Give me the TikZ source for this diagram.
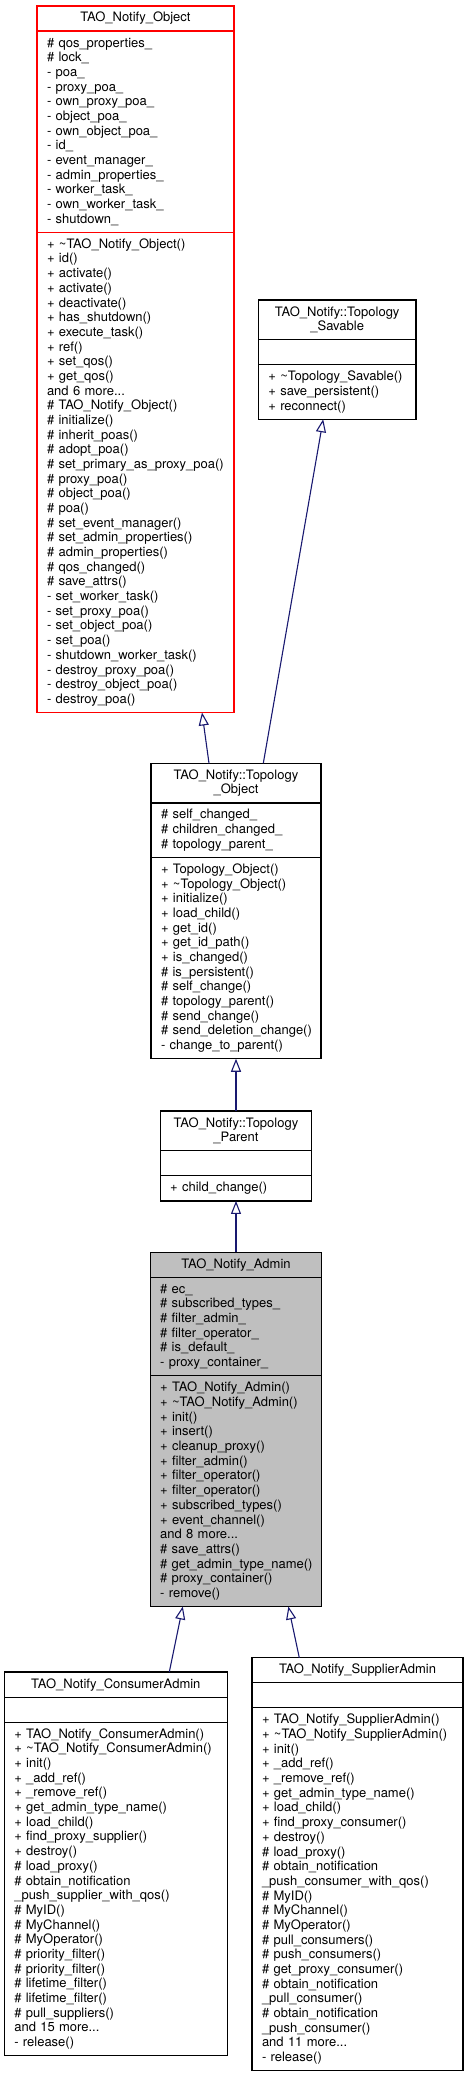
\documentclass[tikz,border=0pt]{standalone}
\usepackage{fontspec}
\setmainfont{TeX Gyre Heros}
\usetikzlibrary{arrows.meta,positioning}
\definecolor{edgeBlue}{HTML}{191970}
\definecolor{boxRed}{HTML}{FF0000}
\definecolor{boxGray}{HTML}{BFBFBF}

\begin{document}
\begin{tikzpicture}[x=1pt,y=-1pt,font=\fontsize{13}{14.68}\selectfont,
  cls/.style={draw=black,line width=1.2pt,fill=white,outer sep=0pt,inner ysep=0pt},
  nlines/.style={minimum height=#1*14.68pt+10.4pt},
  head/.style={cls,inner xsep=0pt,minimum width=#1,align=center},
  body/.style={cls,inner xsep=10pt,text width=#1,align=left},
  inherit/.style={edgeBlue,line width=1.1pt,-{Triangle[open,length=13pt,width=10pt]}}]
\useasboundingbox (0,0) rectangle (468,2077);

% TAO_Notify_Object
\node[head=197pt,nlines=1,draw=boxRed,anchor=north] (objHead) at (135.5,6) {TAO\_Notify\_Object};
\node[body=177pt,nlines=13,draw=boxRed,below=0pt of objHead] (objAttr)
  {\#~qos\_properties\_\\\#~lock\_\\-~poa\_\\-~proxy\_poa\_\\-~own\_proxy\_poa\_\\-~object\_poa\_\\
   -~own\_object\_poa\_\\-~id\_\\-~event\_manager\_\\-~admin\_properties\_\\-~worker\_task\_\\
   -~own\_worker\_task\_\\-~shutdown\_};
\node[body=177pt,nlines=32,draw=boxRed,below=0pt of objAttr] (objOps)
  {+~\textasciitilde TAO\_Notify\_Object()\\+~id()\\+~activate()\\+~activate()\\+~deactivate()\\
   +~has\_shutdown()\\+~execute\_task()\\+~ref()\\+~set\_qos()\\+~get\_qos()\\and 6 more...\\
   \#~TAO\_Notify\_Object()\\\#~initialize()\\\#~inherit\_poas()\\\#~adopt\_poa()\\
   \#~set\_primary\_as\_proxy\_poa()\\\#~proxy\_poa()\\\#~object\_poa()\\\#~poa()\\
   \#~set\_event\_manager()\\\#~set\_admin\_properties()\\\#~admin\_properties()\\
   \#~qos\_changed()\\\#~save\_attrs()\\-~set\_worker\_task()\\-~set\_proxy\_poa()\\
   -~set\_object\_poa()\\-~set\_poa()\\-~shutdown\_worker\_task()\\-~destroy\_proxy\_poa()\\
   -~destroy\_object\_poa()\\-~destroy\_poa()};

% TAO_Notify::Topology_Savable
\node[head=157.7pt,nlines=2,anchor=north] (savHead) at (337.2,300) {TAO\_Notify::Topology\\\_Savable};
\node[body=137.7pt,nlines=1,below=0pt of savHead] (savAttr) {};
\node[body=137.7pt,nlines=3,below=0pt of savAttr] (savOps)
  {+~\textasciitilde Topology\_Savable()\\+~save\_persistent()\\+~reconnect()};

% TAO_Notify::Topology_Object
\node[head=170pt,nlines=2,anchor=north] (toHead) at (236,763.3) {TAO\_Notify::Topology\\\_Object};
\node[body=150pt,nlines=3,below=0pt of toHead] (toAttr)
  {\#~self\_changed\_\\\#~children\_changed\_\\\#~topology\_parent\_};
\node[body=150pt,nlines=13,below=0pt of toAttr] (toOps)
  {+~Topology\_Object()\\+~\textasciitilde Topology\_Object()\\+~initialize()\\+~load\_child()\\
   +~get\_id()\\+~get\_id\_path()\\+~is\_changed()\\\#~is\_persistent()\\\#~self\_change()\\
   \#~topology\_parent()\\\#~send\_change()\\\#~send\_deletion\_change()\\-~change\_to\_parent()};

% TAO_Notify::Topology_Parent
\node[head=151.7pt,nlines=2,anchor=north] (parHead) at (236,1111) {TAO\_Notify::Topology\\\_Parent};
\node[body=131.7pt,nlines=1,below=0pt of parHead] (parAttr) {};
\node[body=131.7pt,nlines=1,below=0pt of parAttr] (parOps) {+~child\_change()};

% TAO_Notify_Admin
\node[head=171.7pt,nlines=1,fill=boxGray,anchor=north] (admHead) at (236,1252.3) {TAO\_Notify\_Admin};
\node[body=151.7pt,nlines=6,fill=boxGray,below=0pt of admHead] (admAttr)
  {\#~ec\_\\\#~subscribed\_types\_\\\#~filter\_admin\_\\\#~filter\_operator\_\\\#~is\_default\_\\
   -~proxy\_container\_};
\node[body=151.7pt,nlines=15,fill=boxGray,below=0pt of admAttr] (admOps)
  {+~TAO\_Notify\_Admin()\\+~\textasciitilde TAO\_Notify\_Admin()\\+~init()\\+~insert()\\
   +~cleanup\_proxy()\\+~filter\_admin()\\+~filter\_operator()\\+~filter\_operator()\\
   +~subscribed\_types()\\+~event\_channel()\\and 8 more...\\\#~save\_attrs()\\
   \#~get\_admin\_type\_name()\\\#~proxy\_container()\\-~remove()};

% TAO_Notify_ConsumerAdmin
\node[head=223pt,nlines=1,anchor=north] (conHead) at (115.8,1672) {TAO\_Notify\_ConsumerAdmin};
\node[body=203pt,nlines=1,below=0pt of conHead] (conAttr) {};
\node[body=203pt,nlines=22,below=0pt of conAttr] (conOps)
  {+~TAO\_Notify\_ConsumerAdmin()\\+~\textasciitilde TAO\_Notify\_ConsumerAdmin()\\+~init()\\
   +~\_add\_ref()\\+~\_remove\_ref()\\+~get\_admin\_type\_name()\\+~load\_child()\\
   +~find\_proxy\_supplier()\\+~destroy()\\\#~load\_proxy()\\\#~obtain\_notification\\
   \_push\_supplier\_with\_qos()\\\#~MyID()\\\#~MyChannel()\\\#~MyOperator()\\
   \#~priority\_filter()\\\#~priority\_filter()\\\#~lifetime\_filter()\\\#~lifetime\_filter()\\
   \#~pull\_suppliers()\\and 15 more...\\-~release()};

% TAO_Notify_SupplierAdmin
\node[head=211pt,nlines=1,anchor=north] (supHead) at (357.5,1657.7) {TAO\_Notify\_SupplierAdmin};
\node[body=191pt,nlines=1,below=0pt of supHead] (supAttr) {};
\node[body=191pt,nlines=24,below=0pt of supAttr] (supOps)
  {+~TAO\_Notify\_SupplierAdmin()\\+~\textasciitilde TAO\_Notify\_SupplierAdmin()\\+~init()\\
   +~\_add\_ref()\\+~\_remove\_ref()\\+~get\_admin\_type\_name()\\+~load\_child()\\
   +~find\_proxy\_consumer()\\+~destroy()\\\#~load\_proxy()\\\#~obtain\_notification\\
   \_push\_consumer\_with\_qos()\\\#~MyID()\\\#~MyChannel()\\\#~MyOperator()\\
   \#~pull\_consumers()\\\#~push\_consumers()\\\#~get\_proxy\_consumer()\\
   \#~obtain\_notification\\\_pull\_consumer()\\\#~obtain\_notification\\\_push\_consumer()\\
   and 11 more...\\-~release()};

% inheritance
\draw[inherit] ([xshift=-27pt]toHead.north) -- ([xshift=66.5pt]objOps.south);
\draw[inherit] ([xshift=27.3pt]toHead.north) -- ([xshift=-14pt]savOps.south);
\draw[inherit] (parHead.north) -- (toOps.south);
\draw[inherit] (admHead.north) -- (parOps.south);
\draw[inherit] ([xshift=53.5pt]conHead.north) -- ([xshift=-53.2pt]admOps.south);
\draw[inherit] ([xshift=-58.2pt]supHead.north) -- ([xshift=52.4pt]admOps.south);
\end{tikzpicture}
\end{document}
